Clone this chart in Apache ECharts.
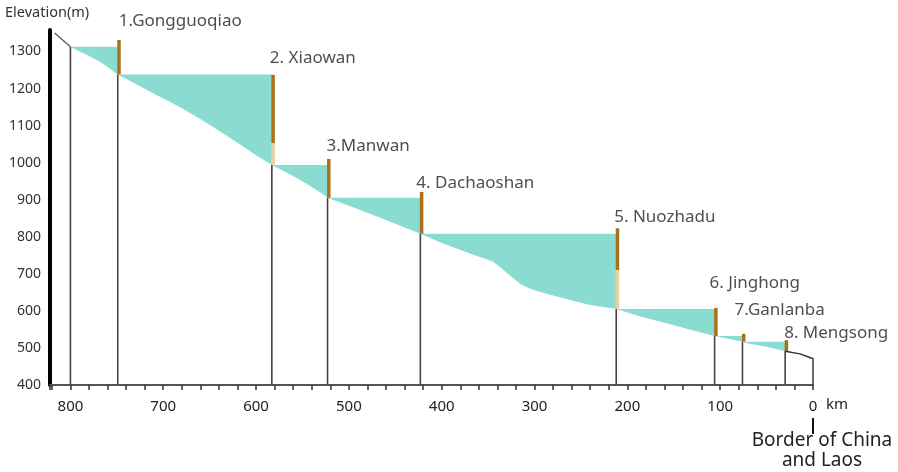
<!DOCTYPE html>
<html>
<head>
<meta charset="utf-8">
<script src="https://cdn.jsdelivr.net/npm/echarts@6/dist/echarts.min.js"></script>
<style>
  html, body { margin: 0; background: #fff; }
  #chart { width: 898px; height: 472px; }
</style>
</head>
<body>
<div id="chart"></div>
<script>
// dams along the river, km upstream of the China / Laos border
const damNames = ['1.Gongguoqiao', '2. Xiaowan', '3.Manwan', '4. Dachaoshan', '5. Nuozhadu', '6. Jinghong', '7.Ganlanba', '8. Mengsong'];
const damKm = [749, 583, 523, 423, 212, 106, 76, 30];
const damTop = [1331, 1237, 1010, 921, 823, 608, 538, 521];
// normal water level of the reservoir behind each dam
const waterLevel = [1313, 1238, 994, 905, 808, 605, 532, 517];
// where the dam face turns pale (null = none)
const paleFrom = [null, 1053, null, null, 710, null, null, null];

// river bed profile
const bedKm = [817, 800, 790, 780, 770, 760, 749, 730, 710, 690, 680, 660, 640, 620, 600, 583,
  570, 555, 540, 530, 523, 500, 480, 460, 440, 423, 400, 365, 345, 336, 325, 315, 304, 290, 272, 243, 212,
  185, 157, 130, 106, 90, 76, 71, 50, 30, 14, 2, 0];
const bedElev = [1350, 1313, 1300, 1288, 1275, 1258, 1238, 1213, 1186, 1160, 1147, 1118, 1086, 1054, 1020, 994,
  977, 957, 934, 918, 905, 884, 865, 845, 825, 808, 783, 751, 733, 716, 692, 672, 659, 648, 636, 617, 605,
  584, 566, 548, 532, 524, 517, 513, 503, 491, 484, 473, 472];

// vertical lines from the axis up to the bed
const stemKm = [800].concat(damKm, [0]);

function bedAt(km) {
  return bedElev[bedKm.indexOf(km)];
}

function bedLine(test) {
  return bedKm.map((k, i) => [k, bedElev[i]]).filter(p => test(p[0]));
}

var chart = echarts.init(document.getElementById('chart'));

var labelShift = [[1, -19], [-2, -17], [-1, -13], [-4, -9], [-2, -11], [-5, -25], [-8, -24], [-1, -7]];

var option = {
  animation: false,
  textStyle: { fontFamily: 'Noto Sans' },
  grid: { left: 50, right: 85, top: 30, bottom: 87 },
  xAxis: {
    type: 'value',
    inverse: true,
    min: 0,
    max: 822,
    interval: 20,
    axisLine: { onZero: false, lineStyle: { color: '#555', width: 2 } },
    axisTick: { length: 5, lineStyle: { color: '#333', width: 1.5 } },
    axisLabel: {
      margin: 14,
      color: '#222',
      fontSize: 15,
      formatter: v => (v % 100 === 0 ? String(v) : '')
    },
    splitLine: { show: false }
  },
  yAxis: {
    type: 'value',
    position: 'left',
    min: 400,
    max: 1358,
    interval: 100,
    axisLine: { show: true, onZero: false, lineStyle: { color: '#000', width: 4 } },
    axisTick: { show: false },
    axisLabel: {
      margin: 9,
      color: '#333',
      fontSize: 14,
      formatter: v => (v % 100 === 0 ? String(v) : '')
    },
    splitLine: { show: false }
  },
  graphic: [
    { type: 'text', left: 5, top: 5, style: { text: 'Elevation(m)', fill: '#333', fontSize: 14.5, fontFamily: 'Noto Sans' } },
    { type: 'text', left: 826, top: 397, style: { text: 'km', fill: '#222', fontSize: 15, fontFamily: 'Noto Sans' } },
    { type: 'line', shape: { x1: 813, y1: 418, x2: 813, y2: 434 }, style: { stroke: '#111', lineWidth: 2 } },
    {
      type: 'text', x: 822, y: 431,
      style: {
        text: 'Border of China\nand Laos', fill: '#222', fontSize: 19, lineHeight: 20,
        align: 'center', fontFamily: 'Noto Sans'
      }
    }
  ],
  series: [
    {
      // reservoirs: water level down to the bed
      type: 'custom',
      data: damKm.map((k, i) => [k, waterLevel[i]]),
      encode: { x: 0, y: 1 },
      renderItem: function (params, api) {
        var i = params.dataIndex;
        var from = i === 0 ? 800 : damKm[i - 1];
        var to = damKm[i];
        var pts = [api.coord([from, waterLevel[i]]), api.coord([to, waterLevel[i]])];
        for (var j = bedKm.length - 1; j >= 0; j--) {
          if (bedKm[j] >= to && bedKm[j] <= from) pts.push(api.coord([bedKm[j], bedElev[j]]));
        }
        return { type: 'polygon', shape: { points: pts }, style: { fill: '#8adcd3' } };
      }
    },
    {
      type: 'custom',
      data: stemKm.map(k => [k, bedAt(k)]),
      encode: { x: 0, y: 1 },
      renderItem: function (params, api) {
        var k = stemKm[params.dataIndex];
        var a = api.coord([k, 400]);
        var b = api.coord([k, bedAt(k)]);
        return {
          type: 'line',
          shape: { x1: a[0], y1: a[1], x2: b[0], y2: b[1] },
          style: { stroke: '#4f3f3f', lineWidth: 1.6 }
        };
      }
    },
    {
      // dam faces
      type: 'custom',
      data: damKm.map((k, i) => [k, damTop[i]]),
      encode: { x: 0, y: 1 },
      renderItem: function (params, api) {
        var i = params.dataIndex;
        var top = api.coord([damKm[i], damTop[i]]);
        var bot = api.coord([damKm[i], bedAt(damKm[i])]);
        var mid = paleFrom[i] ? api.coord([damKm[i], paleFrom[i]]) : bot;
        var kids = [{
          type: 'rect',
          shape: { x: top[0] - 0.5, y: top[1], width: 3.5, height: mid[1] - top[1] },
          style: { fill: '#a8721a' }
        }];
        if (paleFrom[i]) {
          kids.push({
            type: 'rect',
            shape: { x: top[0] - 0.5, y: mid[1], width: 3.5, height: bot[1] - mid[1] },
            style: { fill: '#e2d2a6' }
          });
        }
        return { type: 'group', children: kids };
      }
    },
    {
      type: 'line',
      data: bedLine(k => k >= 800),
      symbol: 'none',
      lineStyle: { color: '#555', width: 1.2 }
    },
    {
      type: 'line',
      data: bedLine(k => k <= 30),
      symbol: 'none',
      lineStyle: { color: '#333', width: 1.5 }
    },
    {
      type: 'scatter',
      symbolSize: 0,
      clip: false,
      data: damKm.map((k, i) => ({
        value: [k, damTop[i]],
        label: { offset: labelShift[i] }
      })),
      label: {
        show: true,
        position: 'inside',
        align: 'left',
        verticalAlign: 'middle',
        color: '#222',
        fontSize: 17,
        formatter: p => damNames[p.dataIndex]
      }
    }
  ]
};

chart.setOption(option);
</script>
</body>
</html>
